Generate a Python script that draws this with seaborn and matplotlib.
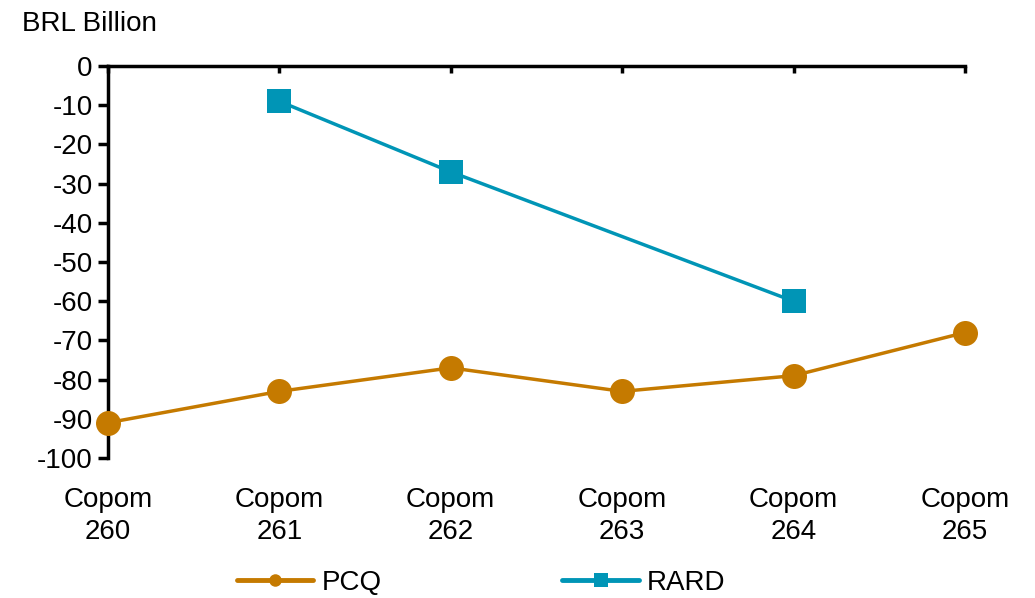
import numpy as np
import pandas as pd
import matplotlib
matplotlib.use("Agg")
import matplotlib.pyplot as plt
import seaborn as sns
from matplotlib.lines import Line2D

categories = ["Copom\n260", "Copom\n261", "Copom\n262", "Copom\n263", "Copom\n264", "Copom\n265"]
pcq = [-91, -83, -77, -83, -79, -68]
rard = [np.nan, -9, -27, np.nan, -60, np.nan]
yticks = list(range(0, -101, -10))

sns.set_theme(style="white")
plt.rcParams['font.family'] = ['Liberation Sans', 'DejaVu Sans']
plt.rcParams['text.color'] = 'black'

ORANGE = "#C57A00"
BLUE = "#0095B6"
FS = 20

fig = plt.figure(figsize=(10.35, 5.98), dpi=100)
ax = fig.add_axes([0.1043, 0.2341, 0.8280, 0.6555])

df = pd.DataFrame({"x": range(len(categories)), "PCQ": pcq, "RARD": rard})
d1 = df.dropna(subset=["PCQ"])
d2 = df.dropna(subset=["RARD"])
sns.lineplot(data=d1, x="x", y="PCQ", ax=ax, color=ORANGE, linewidth=2.5,
             marker="o", markersize=18, markeredgewidth=0, clip_on=False, zorder=3)
sns.lineplot(data=d2, x="x", y="RARD", ax=ax, color=BLUE, linewidth=2.5,
             marker="s", markersize=17, markeredgewidth=0, clip_on=False, zorder=3)

ax.set_xlim(0, len(categories) - 1)
ax.set_ylim(-100, 0)
ax.set_yticks(yticks)
ax.set_yticklabels([str(v) for v in yticks])
ax.set_xticks(range(len(categories)))
ax.set_xticklabels(categories)
ax.set_xlabel("")
ax.set_ylabel("")

for s in ["bottom", "right"]:
    ax.spines[s].set_visible(False)
for s in ["top", "left"]:
    ax.spines[s].set_visible(True)
    ax.spines[s].set_color("black")
    ax.spines[s].set_linewidth(2.5)

ax.tick_params(axis="y", left=True, direction="out", length=7, width=2.5,
               labelsize=FS, colors="black", pad=4)
ax.tick_params(axis="x", top=True, bottom=False, labeltop=False, labelbottom=True,
               direction="in", length=5, width=2.5, labelsize=FS, colors="black", pad=21)
for lbl in ax.get_xticklabels():
    lbl.set_linespacing(1.3)

fig.text(0.021, 0.960, "BRL Billion", fontsize=FS, ha="left", va="center", color="black")

handles = [
    Line2D([], [], color=ORANGE, linewidth=3.5, marker="o", markersize=9, markeredgewidth=0),
    Line2D([], [], color=BLUE, linewidth=3.5, marker="s", markersize=10, markeredgewidth=0),
]
fig.legend(handles, ["PCQ", "RARD"], loc="center", bbox_to_anchor=(0.465, 0.025),
           ncol=2, frameon=False, fontsize=FS, handlelength=2.75, columnspacing=6.5,
           handletextpad=0.3, labelcolor="black")

fig.savefig("out.png", dpi=100)
